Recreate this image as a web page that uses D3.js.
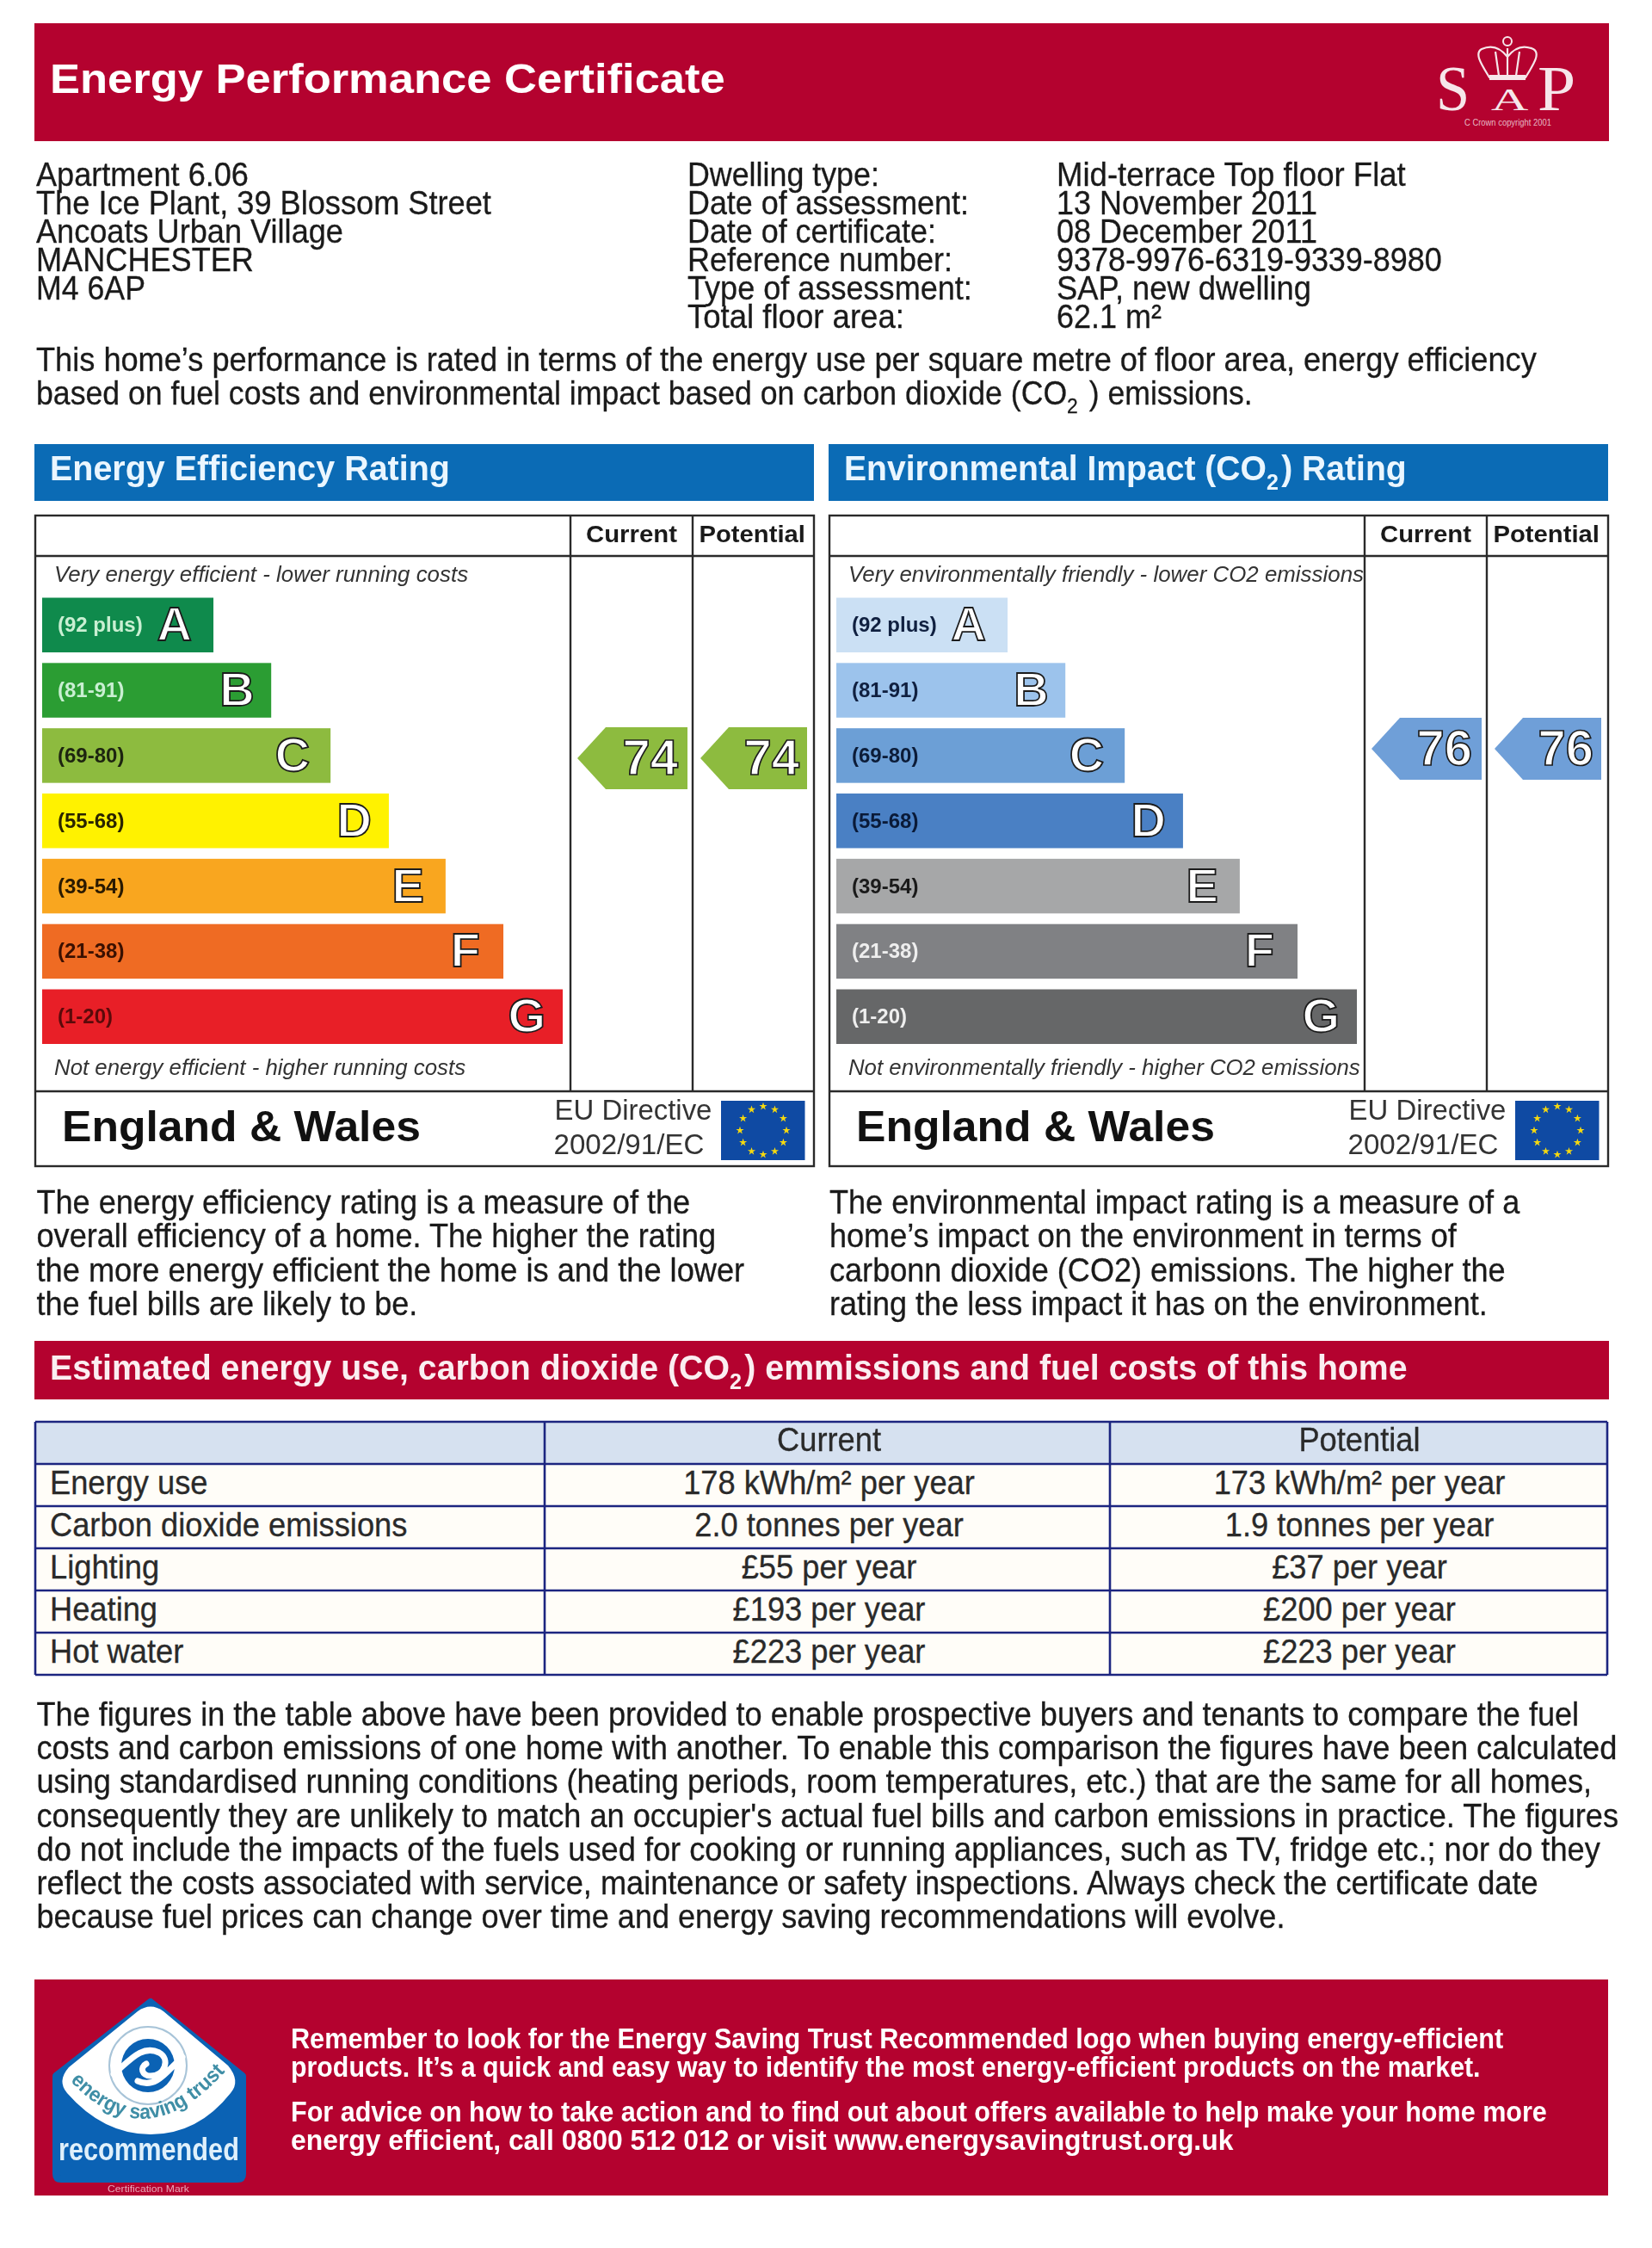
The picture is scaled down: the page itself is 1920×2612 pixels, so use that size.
<!DOCTYPE html>
<html><head><meta charset="utf-8">
<script src="https://cdn.jsdelivr.net/npm/d3@7/dist/d3.min.js"></script>
<style>html,body{margin:0;padding:0;background:#fff}svg{display:block;filter:blur(0.45px)}text{font-family:"Liberation Sans",Arial,sans-serif;white-space:pre}</style>
</head><body><svg id="c" width="1920" height="2612"></svg>
<script>
// ---- data ----
const bandLetters=["A","B","C","D","E","F","G"];
const bandRanges=["(92 plus)","(81-91)","(69-80)","(55-68)","(39-54)","(21-38)","(1-20)"];
const bandLengths=[32.9,44,55.4,66.6,77.5,88.6,100];
const efficiencyColours=["#0f8a4c","#2b9d33","#8dbb3f","#fff200","#f9a61f","#ef6b23","#e81f27"];
const environmentColours=["#cbe0f4","#9cc3ec","#6c9fd6","#4a80c4","#a6a7a8","#808184","#666768"];
const efficiencyLabelColours=["#c9efd2","#c9efd2","#1d2410","#2a2400","#2a1a00","#3a1000","#5a0a0a"];
const environmentLabelColours=["#102040","#102040","#0c1c38","#0a1a38","#1a1a1a","#eeeeee","#eeeeee"];
const efficiencyRatings=[74,74];
const environmentRatings=[76,76];
const ratingColumns=["Current","Potential"];
const addressLines=["Apartment 6.06","The Ice Plant, 39 Blossom Street","Ancoats Urban Village","MANCHESTER","M4 6AP"];
const detailLabels=["Dwelling type:","Date of assessment:","Date of certificate:","Reference number:","Type of assessment:","Total floor area:"];
const detailValues=["Mid-terrace Top floor Flat","13 November 2011","08 December 2011","9378-9976-6319-9339-8980","SAP, new dwelling","62.1 m²"];
const tableRows=["Energy use","Carbon dioxide emissions","Lighting","Heating","Hot water"];
const tableCurrent=["178 kWh/m² per year","2.0 tonnes per year","£55 per year","£193 per year","£223 per year"];
const tablePotential=["173 kWh/m² per year","1.9 tonnes per year","£37 per year","£200 per year","£223 per year"];
const introLines=[["This home’s performance is rated in terms of the energy use per square metre of floor area, energy efficiency"],["based on fuel costs and environmental impact based on carbon dioxide (CO",{sub:"2"}," ) emissions."]];
const effExplain=["The energy efficiency rating is a measure of the","overall efficiency of a home. The higher the rating","the more energy efficient the home is and the lower","the fuel bills are likely to be."];
const envExplain=["The environmental impact rating is a measure of a","home’s impact on the environment in terms of","carbonn dioxide (CO2) emissions. The higher the","rating the less impact it has on the environment."];
const noteLines=["The figures in the table above have been provided to enable prospective buyers and tenants to compare the fuel","costs and carbon emissions of one home with another. To enable this comparison the figures have been calculated","using standardised running conditions (heating periods, room temperatures, etc.) that are the same for all homes,","consequently they are unlikely to match an occupier's actual fuel bills and carbon emissions in practice. The figures","do not include the impacts of the fuels used for cooking or running appliances, such as TV, fridge etc.; nor do they","reflect the costs associated with service, maintenance or safety inspections. Always check the certificate date","because fuel prices can change over time and energy saving recommendations will evolve."];
const footerLines=["Remember to look for the Energy Saving Trust Recommended logo when buying energy-efficient","products. It’s a quick and easy way to identify the most energy-efficient products on the market.","For advice on how to take action and to find out about offers available to help make your home more","energy efficient, call 0800 512 012 or visit www.energysavingtrust.org.uk"];

// ---- layout ----
const CRIMSON="#b4022f",BLUE="#0b6bb5",INK="#1a1a1a";
const svg=d3.select("#c");
function T(g,x,y,str,size,w,o={}){
  const t=g.append("text").attr("font-size",size).attr("fill",o.fill||INK);
  if(o.bold)t.attr("font-weight","bold");
  if(o.italic)t.attr("font-style","italic");
  if(o.stroke)t.attr("stroke",o.stroke).attr("stroke-width",o.sw||1.4);
  const parts=Array.isArray(str)?str:[str];
  parts.forEach(p=>{
    if(typeof p==="string")t.append("tspan").text(p);
    else{t.append("tspan").attr("font-size",size*0.64).attr("dy",size*0.26).text(p.sub);
         t.append("tspan").attr("dy",-size*0.26).text("\u200a");}
  });
  let sx=o.sx||1;
  if(w){sx=w/t.node().getComputedTextLength();}
  if(o.anchor==="middle"&&!w)t.attr("text-anchor","middle");
  if(o.anchor==="end"){t.attr("text-anchor","end");}
  t.attr("transform",`translate(${x},${y}) scale(${sx},1)`);
  return t;
}
const R=(g,x,y,w,h,f)=>g.append("rect").attr("x",x).attr("y",y).attr("width",w).attr("height",h).attr("fill",f);
const BODY={stroke:INK,sw:0.3};

// top banner
const banner=svg.append("g");
R(banner,40,27,1830,137,CRIMSON);
T(banner,58,108,"Energy Performance Certificate",49,785,{bold:1,fill:"#fff"});
// SAP mark
const sap=svg.append("g");
const SERIF="'Liberation Serif',serif";
T(sap,1669,128,"S",74,47,{fill:"#f6e6ea"}).style("font-family",SERIF);
T(sap,1733,128,"A",36,40,{fill:"#f6e6ea"}).style("font-family",SERIF);
T(sap,1787,128,"P",74,53,{fill:"#f6e6ea"}).style("font-family",SERIF);
sap.append("path").attr("d","M1731 90C1722 75 1713 62 1722 57C1735 51 1745 57 1752 66C1759 57 1769 51 1782 57C1791 62 1782 75 1773 90ZM1752 56V90M1738 60L1742 88M1766 60L1762 88").attr("fill","none").attr("stroke","#f6e6ea").attr("stroke-width",2.2);
sap.append("circle").attr("cx",1752).attr("cy",48).attr("r",5).attr("fill","none").attr("stroke","#f6e6ea").attr("stroke-width",2);
R(sap,1731,87,42,6,"#f6e6ea");
T(sap,1702,146,"C Crown copyright 2001",10,101,{fill:"#e6b8c4"});

// address and details
const lineY=d3.scaleLinear().domain([0,5]).range([215.5,381]);
const addrW=[247,529,357,253,127];
addressLines.forEach((s,i)=>T(svg,42,lineY(i),s,38,addrW[i],BODY));
const labW=[223,327,289,308,331,252];
detailLabels.forEach((s,i)=>T(svg,799,lineY(i),s,38,labW[i],BODY));
const valW=[406,303,303,448,296,122];
detailValues.forEach((s,i)=>T(svg,1228,lineY(i),s,38,valW[i],BODY));
const introW=[1744,1414];
introLines.forEach((s,i)=>T(svg,42,430.5+i*39.5,s,38,introW[i],BODY));

// rating panels
function panel(dx,title,titleW,colours,labelColours,ratings,ratingFill,topNote,topW,botNote,botW){
  const g=svg.append("g").attr("class","panel");
  const L=41+dx,Rt=946+dx;
  R(g,40+dx,516,906,66,BLUE);
  T(g,58+dx,558,title,41,titleW,{bold:1,fill:"#eaf6ff"});
  g.append("rect").attr("x",L).attr("y",599).attr("width",Rt-L).attr("height",756).attr("fill","none").attr("stroke","#2a2a2a").attr("stroke-width",2.4);
  [[L,Rt,646,646],[L,Rt,1268,1268]].forEach(a=>g.append("line").attr("x1",a[0]).attr("x2",a[1]).attr("y1",a[2]).attr("y2",a[3]).attr("stroke","#2a2a2a").attr("stroke-width",2.4));
  const colX=d3.scaleBand().domain(ratingColumns).range([663+dx,947+dx]);
  ratingColumns.forEach(c=>g.append("line").attr("x1",colX(c)).attr("x2",colX(c)).attr("y1",599).attr("y2",1268).attr("stroke","#2a2a2a").attr("stroke-width",2.4));
  T(g,681+dx,630,"Current",27,106,{bold:1});
  T(g,812.5+dx,630,"Potential",27,123.5,{bold:1});
  T(g,63+dx,675.5,topNote,25,topW,{italic:1,fill:"#333"});
  T(g,63+dx,1249,botNote,25,botW,{italic:1,fill:"#333"});
  const y=d3.scaleBand().domain(bandLetters).range([694.5,1213]).paddingInner(0.163).paddingOuter(0);
  const x=d3.scaleLinear().domain([0,100]).range([49+dx,654+dx]);
  const letterInset=[25,19.5,24,20,25,27,20];
  g.selectAll("rect.bar").data(bandLetters).join("rect").attr("class","bar")
    .attr("x",x(0)).attr("y",d=>y(d)).attr("width",(d,i)=>x(bandLengths[i])-x(0)).attr("height",y.bandwidth())
    .attr("fill",(d,i)=>colours[i]);
  bandLetters.forEach((d,i)=>{
    T(g,67+dx,y(d)+y.bandwidth()/2+8,bandRanges[i],24,null,{bold:1,fill:labelColours[i]});
    T(g,x(bandLengths[i])-letterInset[i],y(d)+y.bandwidth()/2+18,d,56,null,{bold:1,fill:"#fff",stroke:"#1c1c1c",sw:1.8,anchor:"end"});
  });
  // rating arrows
  const ratingY=d3.scaleLinear().domain([0,100]).range([1288,738]);
  ratingColumns.forEach((c,i)=>{
    const a=colX(c)+(i?9:8),b=colX(c)+colX.bandwidth()-(i?9:6),m=ratingY(ratings[i]),h=36;
    g.append("path").attr("d",d3.line()([[a,m],[a+33,m-h],[b,m-h],[b,m+h],[a+33,m+h]])+"Z").attr("fill",ratingFill);
    T(g,b-(i?9:11),m+19,String(ratings[i]),58,null,{bold:1,fill:"#fff",stroke:"#1c1c1c",sw:1.7,anchor:"end"});
  });
  T(g,72+dx,1326,"England & Wales",50,417,{bold:1,fill:"#111"});
  T(g,644.5+dx,1300.5,"EU Directive",33,183,{fill:"#333"});
  T(g,643.5+dx,1341,"2002/91/EC",33,175,{fill:"#333"});
  R(g,838+dx,1279,97.5,69,"#0f4aa3");
  g.selectAll("path.star").data(d3.range(12)).join("path").attr("class","star")
    .attr("d",d3.symbol(d3.symbolStar,26))
    .attr("transform",d=>`translate(${887+dx+27*Math.sin(d*Math.PI/6)},${1313.5-28*Math.cos(d*Math.PI/6)})`)
    .attr("fill","#f6d90f");
}
panel(0,"Energy Efficiency Rating",465,efficiencyColours,efficiencyLabelColours,efficiencyRatings,"#8dbb3f",
  "Very energy efficient - lower running costs",481.5,"Not energy efficient - higher running costs",478.5);
panel(923,["Environmental Impact (CO",{sub:"2"},") Rating"],654,environmentColours,environmentLabelColours,environmentRatings,"#6f9fd8",
  "Very environmentally friendly - lower CO2 emissions",599.5,"Not environmentally friendly - higher CO2 emissions",595);

// explanations
const expY=d3.scaleLinear().domain([0,3]).range([1410,1528]);
const effW=[760,790,823,443],envW=[802.5,729,786,765];
effExplain.forEach((s,i)=>T(svg,42.5,expY(i),s,38,effW[i],BODY));
envExplain.forEach((s,i)=>T(svg,964,expY(i),s,38,envW[i],BODY));

// table
R(svg,40,1558,1830,68,CRIMSON);
T(svg,58,1603,["Estimated energy use, carbon dioxide (CO",{sub:"2"},") emmissions and fuel costs of this home"],41,1578,{bold:1,fill:"#fbeef1"});
const NAVY="#1c2580";
const tY=d3.scaleBand().domain(["head"].concat(tableRows)).range([1652,1946]);
const tX=[41,633,1290,1868];
R(svg,tX[0],1652,tX[3]-tX[0],294,"#fffdf8");
R(svg,tX[0],1652,tX[3]-tX[0],tY.bandwidth(),"#d6e1f0");
tY.domain().concat(["end"]).forEach((d,i)=>{const yy=1652+i*tY.step();
  svg.append("line").attr("x1",tX[0]).attr("x2",tX[3]).attr("y1",yy).attr("y2",yy).attr("stroke",NAVY).attr("stroke-width",2.6);});
tX.forEach(xx=>svg.append("line").attr("x1",xx).attr("x2",xx).attr("y1",1652).attr("y2",1946).attr("stroke",NAVY).attr("stroke-width",2.6));
const midC=(tX[1]+tX[2])/2+2,midP=(tX[2]+tX[3])/2+1;
const CELL={anchor:"middle",fill:"#2a2a2a",sx:0.955,stroke:"#2a2a2a",sw:0.3};
T(svg,midC,1686,"Current",38,null,CELL);
T(svg,midP,1686,"Potential",38,null,CELL);
tableRows.forEach((d,i)=>{const b=tY(d)+tY.bandwidth()-14;
  T(svg,58,b,d,38,null,{fill:"#2a2a2a",sx:0.955,stroke:"#2a2a2a",sw:0.3});
  T(svg,midC,b,tableCurrent[i],38,null,CELL);
  T(svg,midP,b,tablePotential[i],38,null,CELL);
});

// notes
const noteW=[1793,1837.5,1808.5,1839,1817.5,1745.5,1451.5];
const noteY=d3.scaleLinear().domain([0,6]).range([2005,2240]);
noteLines.forEach((s,i)=>T(svg,42.5,noteY(i),s,38,noteW[i],BODY));

// footer
R(svg,40,2300,1829,251,CRIMSON);
const footW=[1410,1383,1460,1096],footY=[2380,2413,2465,2498];
footerLines.forEach((s,i)=>T(svg,338,footY[i],s,33,footW[i],{bold:1,fill:"#fff"}));

// logo
const lg=svg.append("g");
lg.append("path").attr("d","M175 2326L282 2412V2526Q282 2532 276 2532H71Q65 2532 65 2526V2412Z").attr("fill","#0b62b4").attr("stroke","#0b62b4").attr("stroke-width",8).attr("stroke-linejoin","round");
lg.append("path").attr("d","M160 2337Q175 2326 190 2337L265 2400Q280 2418 268 2432Q230 2480 175 2480Q120 2480 78 2432Q66 2418 80 2402Z").attr("fill","#fff");
lg.append("circle").attr("cx",172).attr("cy",2400).attr("r",45).attr("fill","none").attr("stroke","#a8c4d8").attr("stroke-width",2);
lg.append("circle").attr("cx",172).attr("cy",2400).attr("r",31).attr("fill","#0b62b4");
lg.append("path").attr("d","M132 2410C150 2395 165 2375 185 2385C198 2392 192 2412 175 2412C165 2412 162 2402 170 2398M212 2390C195 2405 182 2428 160 2418").attr("fill","none").attr("stroke","#fff").attr("stroke-width",7).attr("stroke-linecap","round");
svg.append("defs").append("path").attr("id","arc").attr("d","M80 2416Q170 2514 266 2402");
lg.append("text").attr("font-size",24).attr("fill","#3f8ea6").attr("font-weight","bold").append("textPath").attr("href","#arc").attr("startOffset","1%").attr("textLength",212).attr("lengthAdjust","spacingAndGlyphs").text("energy saving trust");
T(lg,68,2510,"recommended",36,210,{bold:1,fill:"#dff0fb"});
T(lg,125,2547,"Certification Mark",10,95,{fill:"#e8a8b8"});
</script></body></html>
